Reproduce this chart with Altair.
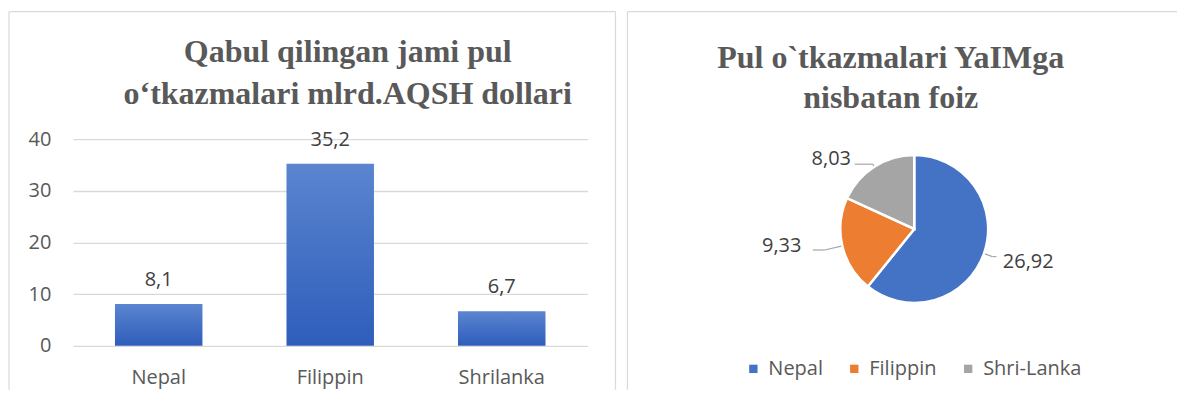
import altair as alt
import pandas as pd

# ---- data ----
countries = ["Nepal", "Filippin", "Shrilanka"]
remittances = [8.1, 35.2, 6.7]
y_ticks = [0, 10, 20, 30, 40]

pie_names = ["Nepal", "Filippin", "Shri-Lanka"]
gdp_share = [26.92, 9.33, 8.03]
pie_order = [0, 1, 2]
pie_colors = ["#4472C4", "#ED7D31", "#A5A5A5"]

title_left = "Qabul qilingan jami pul\no‘tkazmalari mlrd.AQSH dollari"
title_right = "Pul o`tkazmalari YaIMga\nnisbatan foiz"

bar_df = pd.DataFrame({"country": countries, "value": remittances})
pie_df = pd.DataFrame({"country": pie_names, "value": gdp_share, "order": pie_order})
total = float(sum(gdp_share))

FONT = "Open Sans"
SERIF = "Liberation Serif"
GRAY = "#595959"
DARK = "#404040"
FRAME = "#D9D9D9"
LEADER = "#A6A6A6"

# ---- left panel: bar chart ----
W1, H1 = 515, 207
grad = alt.LinearGradient(
    gradient="linear",
    stops=[alt.GradientStop(color="#5B85D0", offset=0),
           alt.GradientStop(color="#2E5DBB", offset=1)],
    x1=0, x2=0, y1=0, y2=1,
)

xenc = alt.X("country:N", sort=countries, title=None,
             scale=alt.Scale(paddingInner=0.49, paddingOuter=0.245),
             axis=alt.Axis(labelAngle=0, labelFont=FONT, labelFontSize=20,
                           labelColor=GRAY, labelPadding=22, ticks=False,
                           domain=False, grid=False))
yenc = alt.Y("value:Q", title=None, scale=alt.Scale(domain=[0, 40]),
             axis=alt.Axis(values=y_ticks, labelFont=FONT, labelFontSize=20,
                           labelColor=GRAY, labelPadding=22, ticks=False,
                           domain=False, gridColor=FRAME, gridWidth=1.3))

bars = alt.Chart(bar_df).mark_bar(color=grad).encode(x=xenc, y=yenc)
bar_text = alt.Chart(bar_df).transform_calculate(
    label="replace(format(datum.value, '.1f'), '.', ',')"
).mark_text(font=FONT, fontSize=20, color=DARK, baseline="alphabetic", dy=-18).encode(
    x=alt.X("country:N", sort=countries), y="value:Q", text="label:N")

t1 = alt.Chart(pd.DataFrame({"t": [title_left]})).mark_text(
    font=SERIF, fontSize=32, fontWeight="bold", color=GRAY, lineBreak="\n",
    lineHeight=42, align="center", baseline="alphabetic"
).encode(x=alt.value(275), y=alt.value(-77), text="t:N")

one = pd.DataFrame({"k": [0]})
fr = alt.Chart(one).mark_rule(color=FRAME, strokeWidth=1.2)
frame1 = alt.layer(
    fr.encode(x=alt.value(-64), x2=alt.value(543), y=alt.value(-127.5)),
    fr.encode(x=alt.value(-64), y=alt.value(-127.5), y2=alt.value(251)),
    fr.encode(x=alt.value(543), y=alt.value(-127.5), y2=alt.value(251)),
)

left = alt.layer(frame1, bars, bar_text, t1).properties(width=W1, height=H1)

# ---- right panel: pie ----
W2, H2 = 280, 180
R = 74
arcs = alt.Chart(pie_df).mark_arc(outerRadius=R, stroke="white", strokeWidth=2.5).encode(
    theta=alt.Theta("value:Q", stack=True),
    color=alt.Color("country:N", sort=pie_names,
                    scale=alt.Scale(domain=pie_names, range=pie_colors),
                    legend=alt.Legend(orient="none", legendX=-31, legendY=220,
                                      direction="horizontal", title=None,
                                      symbolType="square", symbolSize=70,
                                      symbolStrokeWidth=0, labelFont=FONT,
                                      labelFontSize=20, labelColor=GRAY,
                                      columnPadding=21, labelOffset=5)),
    order=alt.Order("order:Q"),
)

lbl_base = alt.Chart(pie_df).transform_window(
    cum="sum(value)", sort=[alt.SortField("order")]
).transform_calculate(
    mid="datum.cum - datum.value / 2",
    label="replace(format(datum.value, '.2f'), '.', ',')",
)
txt = dict(baseline="middle", font=FONT, fontSize=20, color=DARK)
lbl_nepal = lbl_base.transform_filter("datum.order == 0").mark_text(
    radius=94, align="left", dy=2, **txt
).encode(theta=alt.Theta("mid:Q", stack=False), text="label:N")
lbl_fil = lbl_base.transform_filter("datum.order == 1").mark_text(
    radius=116, align="right", dy=-9, **txt
).encode(theta=alt.Theta("mid:Q", stack=False), text="label:N")
lbl_sri = lbl_base.transform_filter("datum.order == 2").mark_text(
    radius=95, align="right", dx=-12, dy=10, **txt
).encode(theta=alt.Theta("mid:Q", stack=False), text="label:N")


def leader(order, r_elbow, hlen):
    """Leader line: radial from the slice edge to an elbow, then horizontal."""
    base = lbl_base.transform_filter(f"datum.order == {order}").transform_calculate(
        ang=f"datum.mid / {total} * 2 * PI"
    ).transform_calculate(
        ex=f"{W2 / 2} + {R + 1} * sin(datum.ang)",
        ey=f"{H2 / 2} - {R + 1} * cos(datum.ang)",
        mx=f"{W2 / 2} + {r_elbow} * sin(datum.ang)",
        my=f"{H2 / 2} - {r_elbow} * cos(datum.ang)",
    ).transform_calculate(hx=f"datum.mx + {hlen}")
    rule = base.mark_rule(color=LEADER, strokeWidth=1.2)
    seg1 = rule.encode(x=alt.X("ex:Q", scale=None), y=alt.Y("ey:Q", scale=None),
                       x2="mx:Q", y2="my:Q")
    seg2 = rule.encode(x=alt.X("mx:Q", scale=None), y=alt.Y("my:Q", scale=None),
                       x2="hx:Q", y2="my:Q")
    return alt.layer(seg1, seg2)


lead_nepal = leader(0, 83, 4)
lead_fil = leader(1, 92, -12)
lead_sri = leader(2, 77, -18)

t2 = alt.Chart(pd.DataFrame({"t": [title_right]})).mark_text(
    font=SERIF, fontSize=32, fontWeight="bold", color=GRAY, lineBreak="\n",
    lineHeight=40, align="center", baseline="alphabetic"
).encode(x=alt.value(116.5), y=alt.value(-71), text="t:N")

frame2 = alt.layer(
    fr.encode(x=alt.value(-147), x2=alt.value(403), y=alt.value(-127.5)),
    fr.encode(x=alt.value(-147), y=alt.value(-127.5), y2=alt.value(251)),
)

right = alt.layer(frame2, arcs, lead_nepal, lead_fil, lead_sri,
                  lbl_nepal, lbl_fil, lbl_sri, t2).properties(width=W2, height=H2)

chart = alt.hconcat(left, right, spacing=10).resolve_legend(
    color="independent"
).properties(
    padding={"left": 0, "top": 2, "right": 0, "bottom": 0}
).configure_view(stroke=None)

chart.save("out.html", embed_options={"renderer": "svg", "actions": False})
